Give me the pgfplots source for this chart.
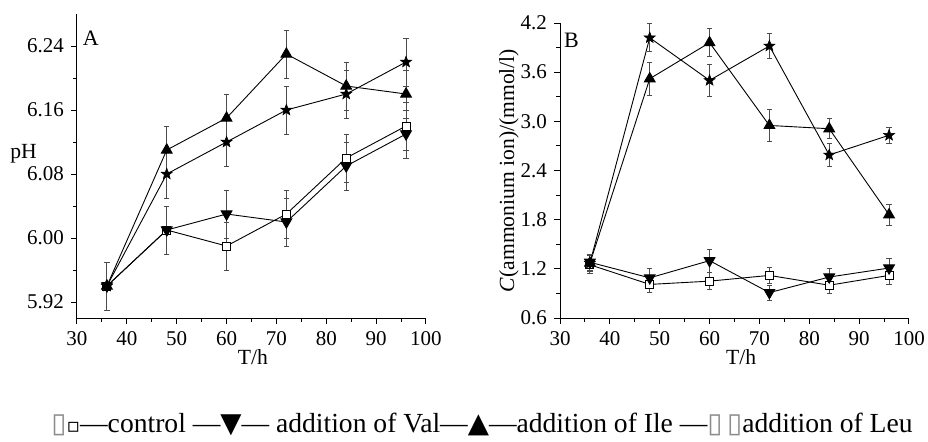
\documentclass[border=0pt]{standalone}
\usepackage{fontspec}
\setmainfont{Liberation Serif}
\newfontfamily\sym{DejaVu Sans}
\usepackage{pgfplots}
\usepackage{pgfplotstable}
\pgfplotsset{compat=1.18}
\usetikzlibrary{plotmarks}

\pgfdeclareplotmark{fstar}{%
  \pgfpathmoveto{\pgfpointpolar{90}{\pgfplotmarksize}}%
  \pgfpathlineto{\pgfpointpolar{126}{0.42\pgfplotmarksize}}%
  \pgfpathlineto{\pgfpointpolar{162}{\pgfplotmarksize}}%
  \pgfpathlineto{\pgfpointpolar{198}{0.42\pgfplotmarksize}}%
  \pgfpathlineto{\pgfpointpolar{234}{\pgfplotmarksize}}%
  \pgfpathlineto{\pgfpointpolar{270}{0.42\pgfplotmarksize}}%
  \pgfpathlineto{\pgfpointpolar{306}{\pgfplotmarksize}}%
  \pgfpathlineto{\pgfpointpolar{342}{0.42\pgfplotmarksize}}%
  \pgfpathlineto{\pgfpointpolar{18}{\pgfplotmarksize}}%
  \pgfpathlineto{\pgfpointpolar{54}{0.42\pgfplotmarksize}}%
  \pgfpathclose
  \pgfusepathqfillstroke}

% pH (panel A): time, value, error
\pgfplotstableread{
t  y     e
36 5.94  0.03
48 6.01  0.03
60 5.99  0.03
72 6.03  0.03
84 6.10  0.03
96 6.14  0.03
}\phctrl
\pgfplotstableread{
t  y     e
36 5.94  0.03
48 6.01  0.03
60 6.03  0.03
72 6.02  0.03
84 6.09  0.03
96 6.13  0.03
}\phval
\pgfplotstableread{
t  y     e
36 5.94  0.03
48 6.11  0.03
60 6.15  0.03
72 6.23  0.03
84 6.19  0.03
96 6.18  0.03
}\phile
\pgfplotstableread{
t  y     e
36 5.94  0.03
48 6.08  0.03
60 6.12  0.03
72 6.16  0.03
84 6.18  0.03
96 6.22  0.03
}\phleu

% ammonium ion (panel B)
\pgfplotstableread{
t  y     e
36 1.25  0.11
48 1.01  0.10
60 1.05  0.10
72 1.12  0.10
84 1.00  0.10
96 1.12  0.11
}\amctrl
\pgfplotstableread{
t  y     e
36 1.28  0.10
48 1.09  0.11
60 1.30  0.14
72 0.91  0.09
84 1.10  0.10
96 1.21  0.12
}\amval
\pgfplotstableread{
t  y     e
36 1.27  0.10
48 3.52  0.20
60 3.96  0.17
72 2.95  0.20
84 2.91  0.12
96 1.86  0.13
}\amile
\pgfplotstableread{
t  y     e
36 1.27  0.10
48 4.02  0.17
60 3.50  0.20
72 3.92  0.15
84 2.59  0.14
96 2.83  0.10
}\amleu

\pgfplotsset{
  panel/.style={
    scale only axis, width=174.5pt,
    axis x line*=bottom, axis y line*=left,
    xmin=30, xmax=100, xtick={30,40,...,100}, minor x tick num=1,
    minor y tick num=1,
    tick align=outside, major tick length=3pt, minor tick length=1.8pt,
    tick style={black, line width=0.5pt},
    axis line style={line width=0.5pt},
    every tick label/.append style={font=\fontsize{10.5}{12}\selectfont},
    label style={font=\fontsize{10.8}{12}\selectfont},
    /pgf/number format/assume math mode=true,
    clip=false,
    every axis plot/.append style={black, line width=0.45pt},
    error bars/y dir=both, error bars/y explicit,
    error bars/error bar style={black!70, line width=0.45pt},
    error bars/error mark options={rotate=90, mark size=1.3pt, black!70, line width=0.45pt},
  },
  ctrl/.style={mark=square*, mark size=2pt, mark options={fill=white, draw=black, line width=0.5pt}},
  val/.style={mark=triangle*, mark size=3.1pt, mark options={fill=black, draw=black, rotate=180}},
  ile/.style={mark=triangle*, mark size=3.1pt, mark options={fill=black, draw=black}},
  leu/.style={mark=fstar, mark size=2.9pt, mark options={fill=black, draw=black, line width=0.3pt}},
}

\begin{document}
\begin{tikzpicture}
\useasboundingbox (0,0) rectangle (464pt,-220.5pt);

\begin{axis}[panel, at={(38.5pt,-159pt)}, anchor=south west,
  height=152pt, ymin=5.90, ymax=6.28,
  ytick={5.92,6.00,6.08,6.16,6.24},
  yticklabel style={/pgf/number format/.cd, fixed, fixed zerofill, precision=2},
  xlabel={T/h}, ylabel={pH},
  xlabel style={at={(axis description cs:0.504,-0.127)}, anchor=center},
  ylabel style={rotate=-90, at={(axis description cs:-0.153,0.54)}, anchor=center}]
\addplot[ctrl] table[x=t, y=y, y error=e] {\phctrl};
\addplot[val]  table[x=t, y=y, y error=e] {\phval};
\addplot[ile]  table[x=t, y=y, y error=e] {\phile};
\addplot[leu]  table[x=t, y=y, y error=e] {\phleu};
\node[anchor=north west, inner sep=0pt, font=\fontsize{11}{12}\selectfont]
  at (axis description cs:0.016,0.947) {A};
\end{axis}

\begin{axis}[panel, at={(280pt,-159pt)}, anchor=south west,
  height=147.5pt, ymin=0.6, ymax=4.2,
  ytick={0.6,1.2,...,4.21},
  yticklabel style={/pgf/number format/.cd, fixed, fixed zerofill, precision=1},
  xlabel={T/h}, ylabel={\textit{C}(ammonium ion)/(mmol/l)},
  xlabel style={at={(axis description cs:0.519,-0.131)}, anchor=center},
  ylabel style={at={(axis description cs:-0.146,0.5)}, anchor=center}]
\addplot[ctrl] table[x=t, y=y, y error=e] {\amctrl};
\addplot[val]  table[x=t, y=y, y error=e] {\amval};
\addplot[ile]  table[x=t, y=y, y error=e] {\amile};
\addplot[leu]  table[x=t, y=y, y error=e] {\amleu};
\node[anchor=north west, inner sep=0pt, font=\fontsize{11}{12}\selectfont]
  at (axis description cs:0.011,0.966) {B};
\end{axis}

\node[anchor=base, inner sep=0pt, font=\fontsize{13.8}{16}\selectfont] at (241pt,-216pt)
  {{\color{black!45}\sym ▯}{\sym\fontsize{10}{11}\selectfont ▫}—control —{\sym ▼}— addition of Val—{\sym ▲}—addition of Ile —{\color{black!45}\sym ▯\,▯}addition of Leu};
\end{tikzpicture}
\end{document}
